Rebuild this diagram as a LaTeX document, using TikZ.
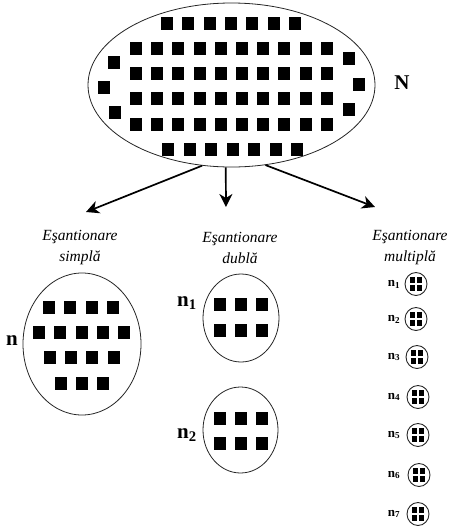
\documentclass[tikz,border=0pt]{standalone}
\usepackage{fontspec}
\setmainfont{Liberation Serif}
\usetikzlibrary{shapes.geometric,arrows.meta}
\newcommand{\blk}[2]{\fill (#1-6,#2-6.5) rectangle ++(12,13);}
\newcommand{\blks}[2]{\fill (#1-2.8,#2-3) rectangle ++(5.6,6);}
\tikzset{
  ring/.style={draw=black!85, line width=0.8pt, ellipse, inner sep=0pt},
  lbl/.style={font=\fontsize{15.5}{21}\selectfont\itshape, align=center, inner sep=0pt},
  sym/.style={font=\fontsize{21}{24}\selectfont\bfseries, inner sep=0pt},
  symsmall/.style={font=\fontsize{13}{15}\selectfont\bfseries, inner sep=0pt},
  arr/.style={line width=1.7pt, -{Stealth[length=13pt,width=13pt,inset=4pt]}}
}
\begin{document}
\begin{tikzpicture}[x=1pt,y=-1pt]
\useasboundingbox (0,0) rectangle (450,528);
% population
\node[ring, minimum width=287pt, minimum height=164pt] (pop) at (231.5,85) {};
\foreach \i in {0,...,6} {\blk{167+21.3*\i}{23}}
\foreach \r in {48,73.3,98.6,124} {\foreach \i in {0,...,9} {\blk{136+21.2*\i}{\r}}}
\foreach \i in {0,...,6} {\blk{168+21.5*\i}{149}}
\blk{114}{62}\blk{104}{87}\blk{115}{112}
\blk{349}{58}\blk{359}{84}\blk{349}{109}
\node[sym] (N) at (402,83) {N};
% arrows
\coordinate (e1) at (86,212);
\coordinate (e2) at (226,207);
\coordinate (e3) at (375,207);
\draw[arr] (pop.250.6) -- (e1);
\draw[arr] (pop.266.3) -- (e2);
\draw[arr] (pop.293.5) -- (e3);
% labels
\node[lbl] (t1) at (80,248) {Eşantionare\\simplă};
\node[lbl] (t2) at (240,248) {Eşantionare\\dublă};
\node[lbl] (t3) at (410,248) {Eşantionare\\multiplă};
% simple sample
\node[ring, minimum width=118pt, minimum height=142pt] (s1) at (82,344) {};
\foreach \x in {49,70,92,113} {\blk{\x}{307}}
\foreach \x in {39,60,82,103,124} {\blk{\x}{332}}
\foreach \x in {50,71,92,114} {\blk{\x}{357}}
\foreach \x in {61,82,103} {\blk{\x}{383}}
\node[sym] (ln) at (12,341) {n};
% double sample
\node[ring, minimum width=76pt, minimum height=88pt] (d1) at (241,318) {};
\node[ring, minimum width=75pt, minimum height=86pt] (d2) at (240.5,430) {};
\foreach \x in {220,241,262} {\blk{\x}{304}\blk{\x}{330}\blk{\x}{418}\blk{\x}{443}}
\node[sym] (ln1) at (187,303) {n\textsubscript{1}};
\node[sym] (ln2) at (187,435) {n\textsubscript{2}};
% multiple sample
\foreach \k/\y/\x in {1/284/416,2/319/416,3/357/417,4/397/418,5/435/418,6/475/419,7/514/418} {
  \node[ring, line width=0.9pt, minimum width=22pt, minimum height=23pt] (m\k) at (\x,\y) {};
  \blks{\x-3.5}{\y-3.7}\blks{\x+3.5}{\y-3.7}
  \blks{\x-3.5}{\y+3.7}\blks{\x+3.5}{\y+3.7}
  \node[symsmall] (lm\k) at (394,\y) {n\textsubscript{\k}};
}
\end{tikzpicture}
\end{document}
